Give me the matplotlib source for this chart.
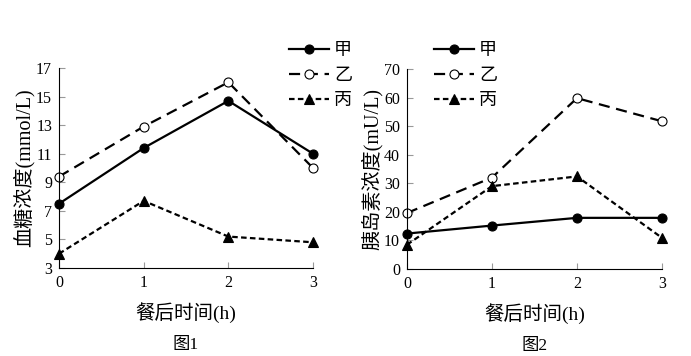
import matplotlib
matplotlib.use('Agg')
from matplotlib import pyplot as plt

# time after meal (h)
hours = [0, 1, 2, 3]
groups = ['甲', '乙', '丙']

# Fig 1: blood glucose (mmol/L)
glucose_jia = [7.5, 11.4, 14.7, 11.0]
glucose_yi = [9.4, 12.9, 16.0, 10.0]
glucose_bing = [4.0, 7.7, 5.2, 4.8]
glucose_ticks = [3, 5, 7, 9, 11, 13, 15, 17]

# Fig 2: insulin (mU/L)
insulin_jia = [12.4, 15.2, 17.9, 17.9]
insulin_yi = [19.6, 32.0, 59.8, 51.7]
insulin_bing = [8.5, 29.0, 32.4, 10.9]
insulin_ticks = [0, 10, 20, 30, 40, 50, 60, 70]

mixed = ['Liberation Serif', 'Noto Sans CJK SC']
cjk = ['Noto Sans CJK SC', 'DejaVu Sans']

styles = [
    dict(ls='-', marker='o', mfc='black', mec='black'),
    dict(ls=(0, (5, 3)), marker='o', mfc='white', mec='black'),
    dict(ls=(0, (2.5, 1.5)), marker='^', mfc='black', mec='black'),
]


def plot_panel(ax, series, yticks, ylab, fig_ttl):
    for vals, st, name in zip(series, styles, groups):
        ax.plot(hours, vals, color='black', lw=1.6, ms=6.5, mew=0.8, clip_on=False,
                label=name, **st)
    ax.set_xlim(0, 3)
    ax.set_ylim(yticks[0], yticks[-1])
    ax.set_xticks(hours)
    ax.set_yticks(yticks)
    ax.spines['top'].set_visible(False)
    ax.spines['right'].set_visible(False)
    ax.tick_params(direction='in', length=4, color='#999999', pad=5, labelsize=11.5)
    for lab in ax.get_xticklabels() + ax.get_yticklabels():
        lab.set_family('Liberation Serif')
    ax.set_ylabel(ylab, family=mixed, fontsize=14.5, labelpad=1)
    ax.set_xlabel('餐后时间(h)', family=mixed, fontsize=14, labelpad=8)
    ax.text(0.5, -0.385, fig_ttl, transform=ax.transAxes, ha='center', va='center',
            family=mixed, fontsize=12.5)


fig = plt.figure(figsize=(6.91, 3.56), dpi=100)
ax1 = fig.add_axes([0.0854, 0.2472, 0.3676, 0.5618])
ax2 = fig.add_axes([0.589, 0.2444, 0.369, 0.5618])

plot_panel(ax1, [glucose_jia, glucose_yi, glucose_bing], glucose_ticks, '血糖浓度(mmol/L)', '图1')
plot_panel(ax2, [insulin_jia, insulin_yi, insulin_bing], insulin_ticks, '胰岛素浓度(mU/L)', '图2')

for ax, x0 in [(ax1, 280 / 691), (ax2, 425 / 691)]:
    fig.legend(*ax.get_legend_handles_labels(), loc='upper left',
               bbox_to_anchor=(x0, 1 - 32 / 356), frameon=False,
               prop={'family': cjk, 'size': 13}, handlelength=2.2,
               handletextpad=0.3, labelspacing=0.4, borderpad=0)

plt.savefig('out.png', dpi=100)
plt.close()
